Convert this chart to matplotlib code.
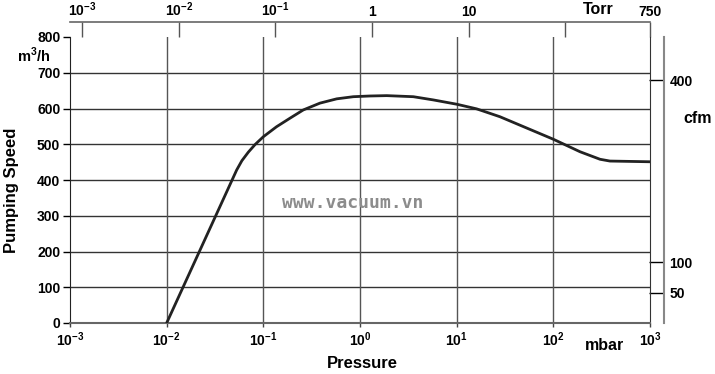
import numpy as np
import matplotlib
matplotlib.use("Agg")
import matplotlib.pyplot as plt

plt.rcParams['font.family'] = ['Liberation Sans', 'DejaVu Sans']
plt.rcParams['font.weight'] = 'bold'
plt.rcParams['mathtext.fontset'] = 'custom'
plt.rcParams['mathtext.rm'] = 'Liberation Sans:bold'
plt.rcParams['mathtext.bf'] = 'Liberation Sans:bold'

# Data
pressure_mbar = [0.01, 0.053, 0.06, 0.07, 0.082, 0.1, 0.137, 0.189,
                 0.259, 0.385, 0.574, 0.853, 1.27, 1.89, 3.56, 5.73, 10,
                 16.1, 28, 100, 189, 304, 385, 1000]
speed_m3h = [0, 428, 454, 478, 499, 521, 549, 573,
             596, 615, 627, 633, 635, 636, 633, 624, 612,
             599, 577, 514, 479, 458, 453, 451]

mbar_ticks = [1e-3, 1e-2, 1e-1, 1, 10, 100, 1000]
mbar_labels = [r'$10^{-3}$', r'$10^{-2}$', r'$10^{-1}$', r'$10^{0}$',
               r'$10^{1}$', r'$10^{2}$', r'$10^{3}$']
torr_ticks = [1e-3, 1e-2, 1e-1, 1, 10, 100, 750]
torr_labels = [r'$10^{-3}$', r'$10^{-2}$', r'$10^{-1}$', '1', '10', '', '750']
speed_ticks = [0, 100, 200, 300, 400, 500, 600, 700, 800]
cfm_ticks = [50, 100, 400]
cfm_labels = ['50', '100', '400']

TORR_TO_MBAR = 1000 / 750
CFM_TO_M3H = 1.699

fig = plt.figure(figsize=(7.15, 3.74), dpi=100)
ax = fig.add_axes([70 / 715, 1 - 323 / 374, 580 / 715, 286 / 374])

ax.set_xscale('log')
ax.set_xlim(1e-3, 1e3)
ax.set_ylim(0, 800)

# grid
for y in speed_ticks[1:-1]:
    ax.axhline(y, color='#333333', lw=1.0, zorder=1)
for x in mbar_ticks[1:-1]:
    ax.axvline(x, color='#555555', lw=1.0, zorder=1)

ax.plot(pressure_mbar, speed_m3h, color='#222222', lw=2.0, zorder=3,
        solid_capstyle='round', solid_joinstyle='round')

ax.spines['top'].set_visible(False)
ax.spines['left'].set_color('#222222')
ax.spines['right'].set_color('#333333')
ax.spines['bottom'].set_color('#666666')
ax.spines['bottom'].set_linewidth(1.5)

ax.set_xticks(mbar_ticks)
ax.set_xticklabels(mbar_labels)
ax.minorticks_off()
ax.set_yticks(speed_ticks)
ax.tick_params(axis='x', direction='out', length=3, width=1, pad=2,
               labelsize=10, color='#444444')
ax.tick_params(axis='y', direction='out', length=5, width=1, pad=2,
               labelsize=10)
for t in ax.get_yticklabels():
    t.set_fontweight('bold')

# top Torr axis
top = ax.secondary_xaxis(1.0524, functions=(lambda m: m / TORR_TO_MBAR,
                                            lambda t: t * TORR_TO_MBAR))
top.set_xticks(torr_ticks)
top.set_xticklabels(torr_labels)
top.minorticks_off()
top.tick_params(direction='in', length=11, width=1, pad=2, labelsize=10,
                color='#555555')
top.spines['top'].set_color('#666666')
top.spines['top'].set_linewidth(1.2)

# right cfm axis
right = ax.secondary_yaxis(1.024, functions=(lambda m: m / CFM_TO_M3H,
                                             lambda c: c * CFM_TO_M3H))
right.set_yticks(cfm_ticks)
right.set_yticklabels(cfm_labels)
right.minorticks_off()
right.tick_params(direction='in', length=11, width=1, pad=4, labelsize=10)
right.spines['right'].set_color('#888888')
right.spines['right'].set_linewidth(1.5)
for t in right.get_yticklabels():
    t.set_fontweight('bold')

# labels
fig.text(12 / 715, 1 - 190 / 374, 'Pumping Speed', rotation=90, ha='center',
         va='center', fontsize=12, fontweight='bold')
fig.text(34 / 715, 1 - 55 / 374, r'm$^{3}$/h', ha='center', va='center',
         fontsize=10.5, fontweight='bold')
fig.text(362 / 715, 1 - 364 / 374, 'Pressure', ha='center', va='center',
         fontsize=12, fontweight='bold')
fig.text(604 / 715, 1 - 346 / 374, 'mbar', ha='center', va='center',
         fontsize=11.5, fontweight='bold')
fig.text(598 / 715, 1 - 9 / 374, 'Torr', ha='center', va='center',
         fontsize=11.5, fontweight='bold')
fig.text(698 / 715, 1 - 119 / 374, 'cfm', ha='center', va='center',
         fontsize=11.5, fontweight='bold')
fig.text(353 / 715, 1 - 203 / 374, 'www.vacuum.vn', ha='center', va='center',
         fontsize=13, fontweight='bold', color='#8c8c8c',
         family='DejaVu Sans Mono')

fig.savefig('out.png', dpi=100)
